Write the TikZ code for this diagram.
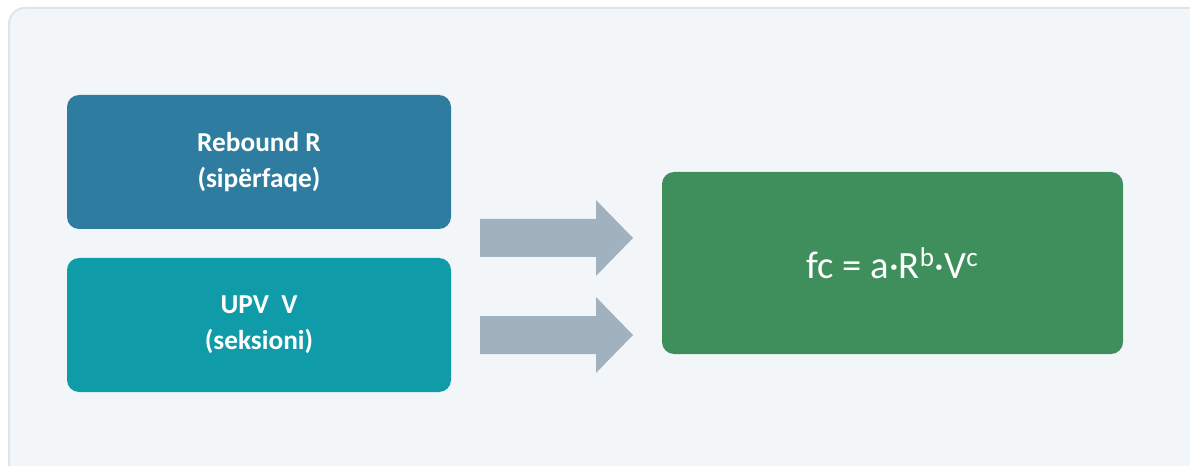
\documentclass[tikz,border=0pt]{standalone}
\usepackage{fontspec}
\setmainfont{Carlito}
\usepackage{tikz}
\usetikzlibrary{positioning}
\definecolor{panelbg}{HTML}{F3F6F9}
\definecolor{panelline}{HTML}{DEE4EB}
\definecolor{rblue}{HTML}{2E7DA1}
\definecolor{vteal}{HTML}{109BA8}
\definecolor{fgreen}{HTML}{3E8F5B}
\definecolor{arrgray}{HTML}{A1B1BD}

\begin{document}
\begin{tikzpicture}[x=0.75pt, y=0.75pt,
    inbox/.style={rounded corners=9pt, minimum width=288pt, minimum height=100.5pt,
      text=white, font=\fontsize{20.5}{27}\selectfont\bfseries, align=center, inner sep=0pt},
    outbox/.style={rounded corners=9pt, fill=fgreen, minimum width=345.75pt, minimum height=136.5pt,
      text=white, font=\fontsize{29}{34}\selectfont, inner sep=0pt}]
  \useasboundingbox (0,0) rectangle (1190,465);
  %% Background panel
  \begin{scope}
    \clip (0,0) rectangle (1190,465);
    \draw[panelline, fill=panelbg, line width=1.5pt, rounded corners=12pt] (9,457) rectangle (1210,-20);
  \end{scope}
  %% Input boxes
  \node[inbox, fill=rblue] (rebound) at (259,303) {Rebound R\\(sipërfaqe)};
  \node[inbox, fill=vteal] (upv) at (259,140) {UPV\ \ V\\(seksioni)};
  %% Result box
  \node[outbox] (formula) at (892.5,202) {fc = a·R\textsuperscript{b}·V\textsuperscript{c}};
  %% Block arrows
  \coordinate (arrR) at (480,227);
  \coordinate (arrV) at (480,130);
  \foreach \a in {arrR, arrV}
    \fill[arrgray] (\a) ++(0,19) -- ++(116,0) -- ++(0,19) -- ++(37,-38) -- ++(-37,-38)
      -- ++(0,19) -- ++(-116,0) -- cycle;
\end{tikzpicture}
\end{document}
